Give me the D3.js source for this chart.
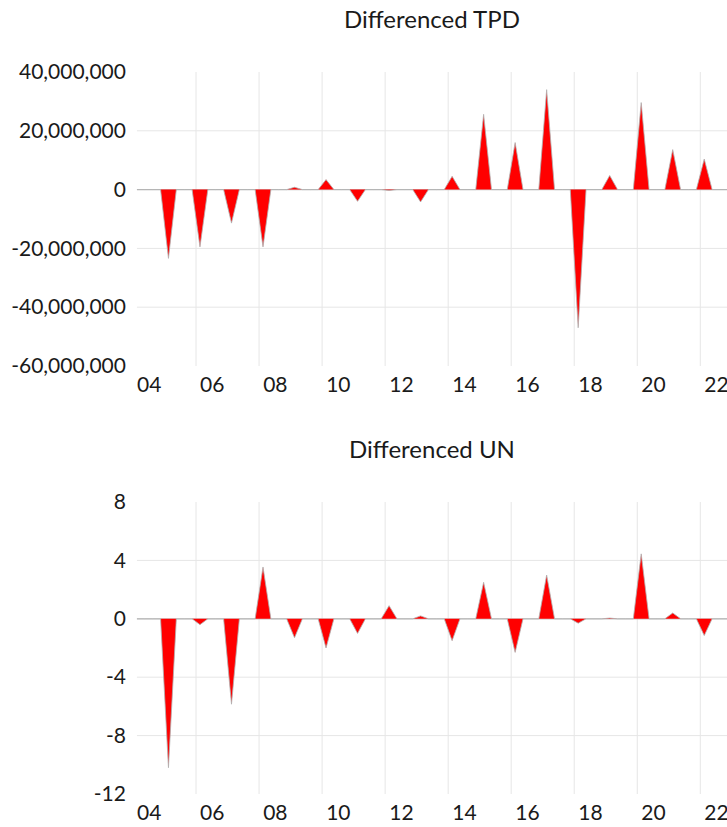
<!DOCTYPE html>
<html>
<head>
<meta charset="utf-8">
<script src="https://cdn.jsdelivr.net/npm/d3@7"></script>
<style>
  body { margin: 0; background: #fff; }
  svg { display: block; font-family: Lato, "Open Sans", sans-serif; }
</style>
</head>
<body>
<div id="chart-area"></div>
<script>
// annual first differences, booked in Q1 of each year (Q2-Q4 are zero)
const years = [2004, 2005, 2006, 2007, 2008, 2009, 2010, 2011, 2012, 2013,
               2014, 2015, 2016, 2017, 2018, 2019, 2020, 2021, 2022, 2023]
const tpdDiff = [0, -23400000, -19500000, -11400000, -19500000, 800000, 3400000,
                 -4000000, -300000, -4200000, 4500000, 25600000, 16000000, 34000000,
                 -47000000, 4800000, 29600000, 13600000, 10400000, 800000]
const unDiff = [0, -10.2, -0.4, -5.85, 3.55, -1.3, -2.0, -1.0, 0.9, 0.2,
                -1.5, 2.5, -2.3, 3.0, -0.3, 0.05, 4.45, 0.4, -1.15, 0.2]

const tpdTicks = [40000000, 20000000, 0, -20000000, -40000000, -60000000]
const unTicks = [8, 4, 0, -4, -8, -12]
const xLabelYears = [2004, 2006, 2008, 2010, 2012, 2014, 2016, 2018, 2020, 2022]

const W = 727, H = 827

const svg = d3.select("#chart-area").append("svg")
  .attr("width", W)
  .attr("height", H)

const x = d3.scaleLinear()
  .domain([2004, 2022])
  .range([133, 700.3])

const PLOT_LEFT = x(2004.125)

function quarterly(vals) {
  const pts = []
  years.forEach((yr, i) => {
    for (let q = 0; q < 4; q++) {
      pts.push({ t: yr + q / 4 + 0.125, v: q === 0 ? vals[i] : 0 })
    }
  })
  return pts
}

const hyphen = s => String(s).replace("\u2212", "-")

function drawPanel(opts) {
  const { title, titleY, values, ticks, top, bottom, fmt } = opts
  const y = d3.scaleLinear()
    .domain([ticks[ticks.length - 1], ticks[0]])
    .range([bottom, top])

  const g = svg.append("g")

  // title
  g.append("text")
    .attr("x", 432)
    .attr("y", titleY)
    .attr("text-anchor", "middle")
    .style("font-size", "24px")
    .style("fill", "#1a1a1a")
    .text(title)

  // horizontal gridlines (interior ticks only)
  g.selectAll(".hgrid")
    .data(ticks.slice(1, -1).filter(d => d !== 0))
    .enter().append("line")
      .attr("x1", PLOT_LEFT)
      .attr("x2", W)
      .attr("y1", d => y(d))
      .attr("y2", d => y(d))
      .attr("stroke", "#e6e6e6")
      .attr("stroke-width", 1)

  // vertical gridlines at even years
  g.selectAll(".vgrid")
    .data(xLabelYears.filter(d => x(d) > PLOT_LEFT))
    .enter().append("line")
      .attr("x1", d => x(d))
      .attr("x2", d => x(d))
      .attr("y1", top)
      .attr("y2", bottom)
      .attr("stroke", "#e6e6e6")
      .attr("stroke-width", 1)

  // zero line
  g.append("line")
    .attr("x1", PLOT_LEFT)
    .attr("x2", W)
    .attr("y1", y(0))
    .attr("y2", y(0))
    .attr("stroke", "#c4c4c4")
    .attr("stroke-width", 1.2)

  const pts = quarterly(values)

  const area = d3.area()
    .x(d => x(d.t))
    .y0(y(0))
    .y1(d => y(d.v))

  const line = d3.line()
    .x(d => x(d.t))
    .y(d => y(d.v))

  g.append("path")
    .datum(pts)
    .attr("d", area)
    .attr("fill", "#ff0000")

  g.append("path")
    .datum(pts)
    .attr("d", line)
    .attr("fill", "none")
    .attr("stroke", "#b0b0b0")
    .attr("stroke-width", 0.8)

  // y axis labels
  const yAxis = d3.axisLeft(y)
    .tickValues(ticks)
    .tickSize(0)
    .tickPadding(11)
    .tickFormat(d => hyphen(fmt(d)))

  g.append("g")
    .attr("transform", `translate(${PLOT_LEFT}, 0)`)
    .call(yAxis)
    .call(a => a.select(".domain").remove())
    .selectAll("text")
      .style("font-size", "21px")
      .style("font-family", "Lato, sans-serif")
      .attr("fill", "#1a1a1a")

  // x axis labels, centred in the year
  const xAxis = d3.axisBottom(x)
    .tickValues(xLabelYears.map(d => d + 0.5))
    .tickSize(0)
    .tickPadding(11)
    .tickFormat(d => String(Math.floor(d)).slice(2))

  g.append("g")
    .attr("transform", `translate(0, ${bottom})`)
    .call(xAxis)
    .call(a => a.select(".domain").remove())
    .selectAll("text")
      .style("font-size", "21px")
      .style("font-family", "Lato, sans-serif")
      .attr("fill", "#1a1a1a")
}

drawPanel({
  title: "Differenced TPD",
  titleY: 28,
  values: tpdDiff,
  ticks: tpdTicks,
  top: 72,
  bottom: 366,
  fmt: d3.format(",")
})

drawPanel({
  title: "Differenced UN",
  titleY: 458,
  values: unDiff,
  ticks: unTicks,
  top: 502,
  bottom: 794,
  fmt: d => d
})
</script>
</body>
</html>
